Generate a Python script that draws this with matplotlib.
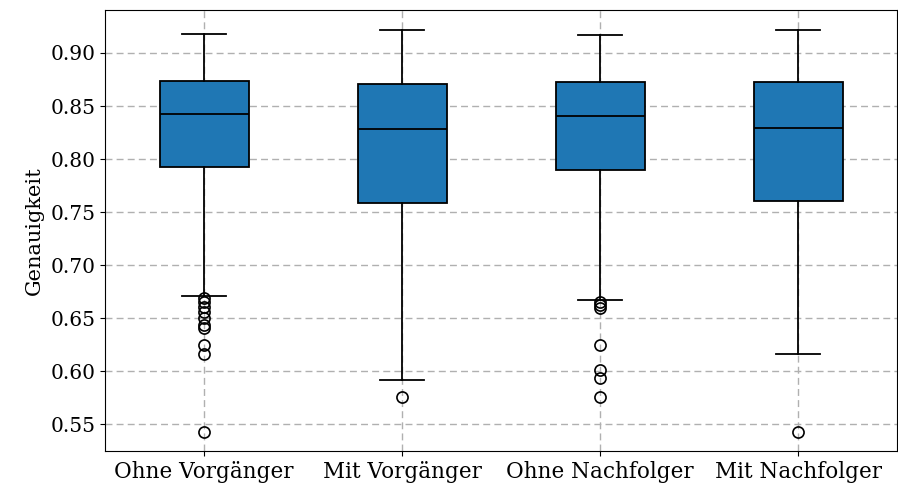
import matplotlib
matplotlib.use("Agg")
import matplotlib.pyplot as plt

# Box statistics for each configuration
labels = ["Ohne Vorgänger", "Mit Vorgänger", "Ohne Nachfolger", "Mit Nachfolger"]
q1 = [0.7925, 0.7585, 0.7896, 0.7604]
medians = [0.8425, 0.8283, 0.8406, 0.8292]
q3 = [0.8736, 0.8708, 0.8726, 0.8726]
whisker_low = [0.6708, 0.5915, 0.6670, 0.6160]
whisker_high = [0.9180, 0.9217, 0.9170, 0.9217]
outliers = [
    [0.669, 0.665, 0.661, 0.656, 0.650, 0.644, 0.641, 0.625, 0.616, 0.5425],
    [0.5755],
    [0.665, 0.662, 0.6594, 0.625, 0.6009, 0.5934, 0.5755],
    [0.5425],
]

plt.rcParams["font.family"] = ["DejaVu Serif"]
plt.rcParams["font.size"] = 14.5

stats = []
for i, lab in enumerate(labels):
    stats.append(dict(label=lab, med=medians[i], q1=q1[i], q3=q3[i],
                      whislo=whisker_low[i], whishi=whisker_high[i],
                      fliers=outliers[i]))

fig, ax = plt.subplots(figsize=(8.98, 4.96), dpi=100)
ax.bxp(stats, widths=0.45, patch_artist=True,
       boxprops=dict(facecolor="#1f77b4", edgecolor="black", linewidth=1.3),
       medianprops=dict(color="black", linewidth=1.3),
       whiskerprops=dict(color="black", linewidth=1.3),
       capprops=dict(color="black", linewidth=1.3),
       flierprops=dict(marker="o", markerfacecolor="none",
                       markeredgecolor="black", markersize=8,
                       markeredgewidth=1.2))

ax.set_ylim(0.5245, 0.9406)
ax.set_xlim(0.5, 4.5)
ax.set_yticks([0.55, 0.60, 0.65, 0.70, 0.75, 0.80, 0.85, 0.90])
ax.yaxis.set_major_formatter(matplotlib.ticker.FormatStrFormatter("%.2f"))
ax.set_ylabel("Genauigkeit", fontsize=15, labelpad=5)
ax.grid(True, linestyle=(0, (5, 3)), color="#b0b0b0", linewidth=1.0)
ax.set_axisbelow(True)
ax.tick_params(axis="y", labelsize=14.5)
ax.tick_params(axis="x", labelsize=15.5)

fig.subplots_adjust(left=0.117, right=0.999, top=0.98, bottom=0.09)
fig.savefig("out.png", dpi=100)
